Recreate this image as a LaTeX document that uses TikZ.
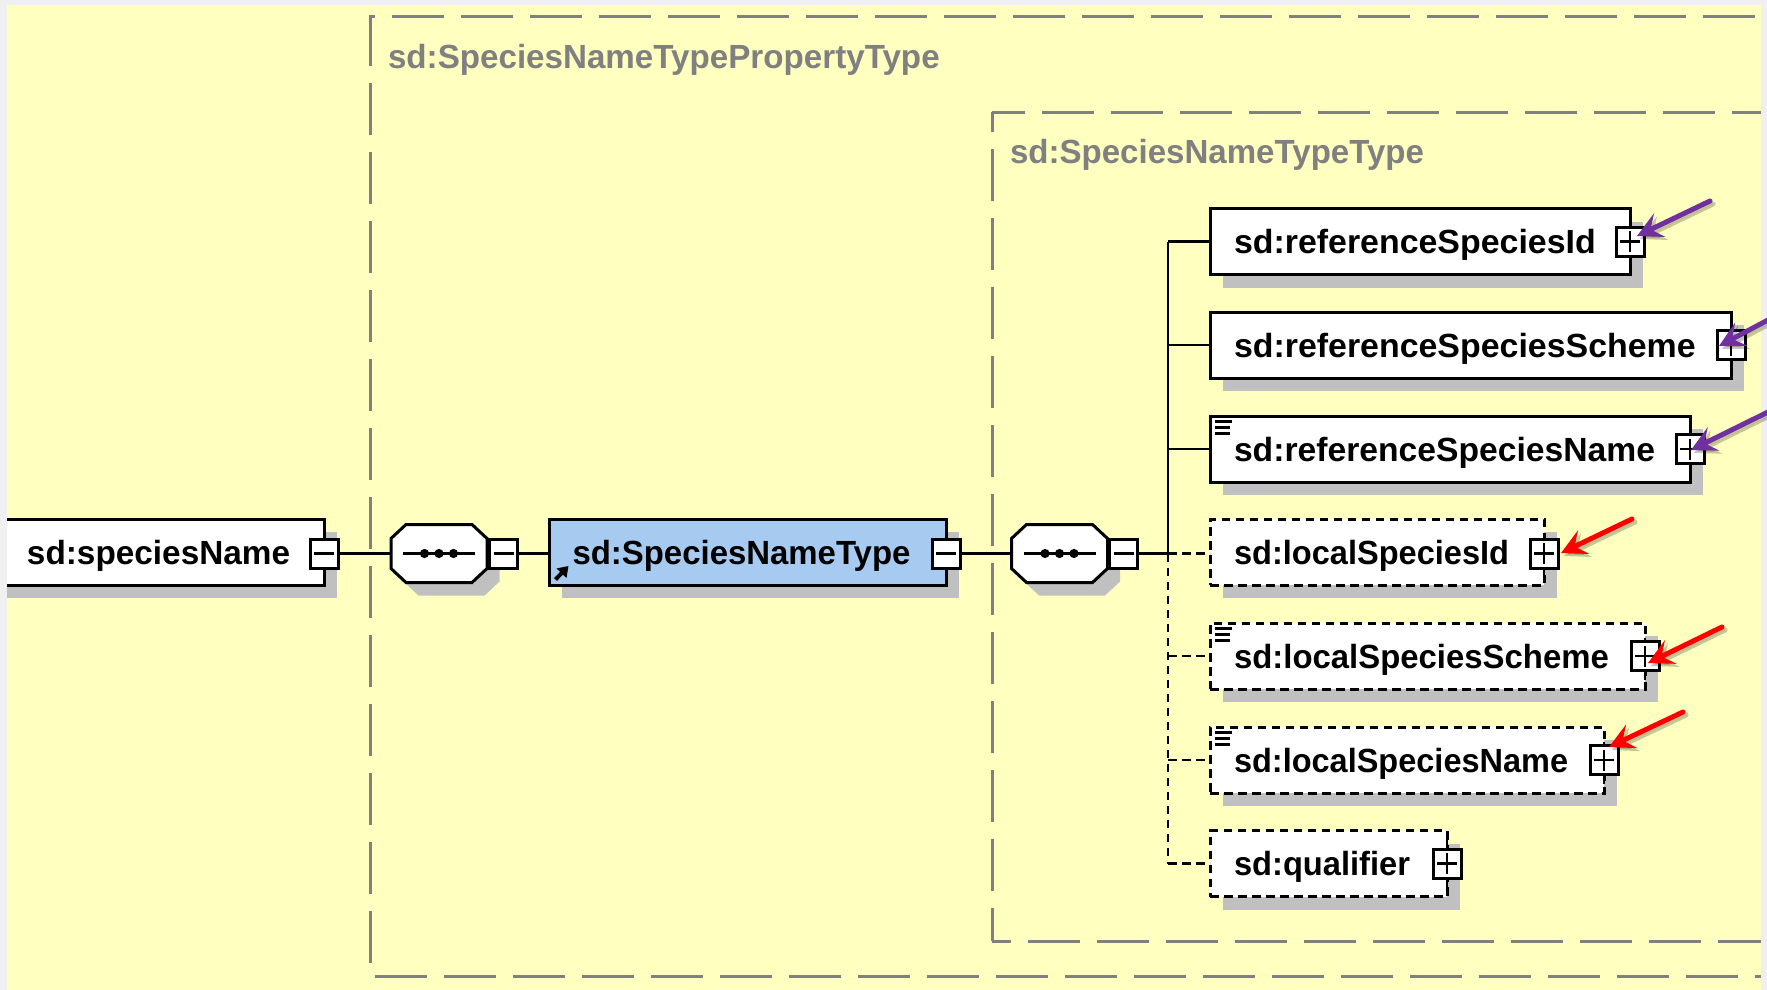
\documentclass[tikz,border=0pt]{standalone}
\usepackage{fontspec}
\usepackage{graphicx}
\setmainfont{Liberation Sans}
\usetikzlibrary{arrows.meta,calc}
\definecolor{bgout}{HTML}{F0F0F0}
\definecolor{bgyel}{HTML}{FFFFC0}
\definecolor{shgray}{HTML}{C0C0C0}
\definecolor{frgray}{HTML}{808080}
\definecolor{typeblue}{HTML}{A6CAF0}
\definecolor{arrpurple}{HTML}{7030A0}
\definecolor{arrred}{HTML}{FF0000}
\tikzset{
  shad/.style={preaction={draw=none,fill=shgray,transform canvas={xshift=12.5pt,yshift=-13pt}}},
  elem/.style={shape=rectangle,shad,draw=black,fill=white,line width=3pt,minimum height=66pt,inner sep=0pt,outer sep=0pt,anchor=west},
  optelem/.style={elem,dash pattern=on 8.5pt off 5.5pt},
  seqbox/.style={shape=rectangle,minimum width=96pt,minimum height=58pt,inner sep=0pt,outer sep=0pt},
  tog/.style={shape=rectangle,draw=black,fill=white,line width=3pt,minimum width=28pt,minimum height=29pt,inner sep=0pt,outer sep=0pt},
  minusbox/.style={tog,path picture={\draw[line width=2.4pt,shorten <=4pt,shorten >=4pt] (path picture bounding box.west) -- (path picture bounding box.east);}},
  plusbox/.style={tog,path picture={\draw[line width=2.4pt,shorten <=4pt,shorten >=4pt] (path picture bounding box.west) -- (path picture bounding box.east);\draw[line width=2.4pt,shorten <=4pt,shorten >=4pt] (path picture bounding box.north) -- (path picture bounding box.south);}},
  lbl/.style={font=\bfseries\fontsize{33.5pt}{36pt}\selectfont,text=black,anchor=base west,inner sep=0pt,outer sep=0pt},
  grlbl/.style={lbl,text=frgray},
  frameln/.style={draw=frgray,line width=3pt,dash pattern=on 52pt off 17pt},
  conn/.style={draw=black,line width=2.7pt},
  dconn/.style={draw=black,line width=2.7pt,dash pattern=on 8.5pt off 5.5pt},
  callout/.style={line width=5pt,line cap=round,-{Stealth[length=25pt,width=26pt,inset=10pt]}},
}
\newcommand\sx[2]{\scalebox{#1}[1]{#2}}
\newcommand\seqpoly[1]{([xshift=15pt]#1.north west) -- ([xshift=-15pt]#1.north east) -- ([yshift=-14pt]#1.north east) -- ([yshift=14pt]#1.south east) -- ([xshift=-15pt]#1.south east) -- ([xshift=15pt]#1.south west) -- ([yshift=14pt]#1.south west) -- ([yshift=-14pt]#1.north west) -- cycle}
\newcommand\seqmark[1]{%
  \fill[shgray,transform canvas={xshift=12.5pt,yshift=-13pt}] \seqpoly{#1};
  \draw[line width=3pt,fill=white] \seqpoly{#1};
  \draw[line width=2.7pt] ([xshift=-36pt]#1.center) -- ([xshift=36pt]#1.center);
  \fill ([xshift=-14.5pt]#1.center) circle (4.6pt) (#1.center) circle (4.6pt) ([xshift=14.5pt]#1.center) circle (4.6pt);}
\newcommand\listmark[1]{%
  \draw[line width=3pt] ([shift={(5,5)}]#1.north west) -- ++(17,0) ([shift={(5,11)}]#1.north west) -- ++(15,0) ([shift={(5,17)}]#1.north west) -- ++(15,0);}
\newcommand\calloutarrow[3]{%
  \draw[callout,draw=black,fill=black,opacity=.22] ([shift={(3,3)}]#2) -- ([shift={(3,3)}]#3);
  \draw[callout,draw=#1,fill=#1] (#2) -- (#3);}
\begin{document}
\begin{tikzpicture}[x=1pt,y=-1pt]
\useasboundingbox (0,0) rectangle (1767,990);
\fill[bgout] (0,0) rectangle (1767,990);
\fill[bgyel] (7,5) rectangle (1761,990);

% outer frame
\draw[frameln,dash phase=3pt] (370,17) -- (370,963);
\draw[draw=frgray,line width=3pt] (368.5,17) -- (375,17);
\draw[frameln] (392,17) -- (1755,17);
\draw[frameln] (375,976.5) -- (1761,976.5);
\node[grlbl] (outerlabel) at (388,69) {\sx{.99}{sd:SpeciesNameTypePropertyType}};

% inner frame
\draw[frameln,dash phase=32pt] (992,112) -- (992,941);
\draw[frameln,dash phase=19pt] (992,112) -- (1761,112);
\draw[frameln,dash phase=33pt] (992,941) -- (1761,941);
\node[grlbl] (innerlabel) at (1010,163.5) {\sx{.987}{sd:SpeciesNameTypeType}};

% main row
\node[elem,anchor=east,minimum width=330pt] (species) at (324,552) {};
\node[minusbox] (m0) at ([yshift=-1.5pt]species.east) {};
\node[lbl] (speciestxt) at (27,564) {\sx{.995}{sd:speciesName}};

\node[seqbox] (seqa) at (439,553.5) {};
\seqmark{seqa}
\node[minusbox,anchor=west] (m1) at (489.5,553.5) {};

\node[elem,fill=typeblue,minimum width=397pt] (ntype) at (549,552) {};
\node[minusbox] (m2) at ([yshift=-1.5pt]ntype.east) {};
\node[lbl] (ntypetxt) at (572.5,564) {\sx{.983}{sd:SpeciesNameType}};
\draw[line width=4pt,-{Triangle[length=10pt,width=13pt]}] ([shift={(6.5,-5.5)}]ntype.south west) -- ([shift={(19.5,-19)}]ntype.south west);

\node[seqbox] (seqb) at (1059.5,553.5) {};
\seqmark{seqb}
\node[minusbox,anchor=west] (m3) at (1109.5,553.5) {};

\draw[conn] (m0.east) -- (seqa.west);
\draw[conn] (m1.east) -- (m1.east -| ntype.west);
\draw[conn] (m2.east) -- (seqb.west);

% child elements
\node[elem,minimum width=420pt] (ra) at (1210,241.5) {};
\node[plusbox] (pa) at (ra.east) {};
\node[lbl] (ratxt) at (1234,253) {\sx{1.012}{sd:referenceSpeciesId}};

\node[elem,minimum width=521pt] (rb) at (1210,345) {};
\node[plusbox] (pb) at (rb.east) {};
\node[lbl] (rbtxt) at (1234,357) {\sx{1.012}{sd:referenceSpeciesScheme}};

\node[elem,minimum width=480pt] (rc) at (1210,449) {};
\node[plusbox] (pc) at (rc.east) {};
\listmark{rc}
\node[lbl] (rctxt) at (1234,461) {\sx{1.005}{sd:referenceSpeciesName}};

\node[optelem,minimum width=334pt] (la) at (1210,552) {};
\node[plusbox] (pd) at ([yshift=-1.5pt]la.east) {};
\node[lbl] (latxt) at (1234,564) {\sx{.972}{sd:localSpeciesId}};

\node[optelem,minimum width=435pt] (lb) at (1210,656) {};
\node[plusbox] (pe) at (lb.east) {};
\listmark{lb}
\node[lbl] (lbtxt) at (1234,668) {\sx{.982}{sd:localSpeciesScheme}};

\node[optelem,minimum width=394pt] (lc) at (1210,760) {};
\node[plusbox] (pf) at (lc.east) {};
\listmark{lc}
\node[lbl] (lctxt) at (1234,772) {\sx{.97}{sd:localSpeciesName}};

\node[optelem,minimum width=237pt] (ld) at (1210,863.5) {};
\node[plusbox] (pg) at (ld.east) {};
\node[lbl] (ldtxt) at (1234,875) {\sx{.975}{sd:qualifier}};

% ticks of the dashed right edges
\foreach \p in {pd,pe,pf}{
  \draw[line width=2.7pt] (\p.north) -- ++(0,-4);
  \draw[line width=2.7pt] (\p.south) -- ++(0,9);}
\draw[line width=2.7pt] (pg.north) -- ++(0,-10);
\draw[line width=2.7pt] (pg.south) -- ++(0,10);

% trunk and branches
\coordinate (trunk) at (1168,553.5);
\draw[conn] (m3.east) -- (trunk);
\draw[conn] (trunk |- ra.west) -- (trunk);
\draw[conn] (trunk |- ra.west) -- (ra.west);
\draw[conn] (trunk |- rb.west) -- (rb.west);
\draw[conn] (trunk |- rc.west) -- (rc.west);
\draw[dconn] (trunk) -- (trunk -| la.west);
\draw[dconn] (trunk) -- (trunk |- ld.west);
\draw[dconn] (trunk |- lb.west) -- (lb.west);
\draw[dconn] (trunk |- lc.west) -- (lc.west);
\draw[dconn] (trunk |- ld.west) -- (ld.west);

% window edges over the clipped box
\fill[bgout] (0,0) rectangle (7,990);
\fill[bgout] (1761,0) rectangle (1767,990);

% callout arrows
\coordinate (a1t) at (1710,201); \coordinate (a1h) at (1637,236);
\coordinate (a2t) at (1768,320); \coordinate (a2h) at (1719,346);
\coordinate (a3t) at (1768,412); \coordinate (a3h) at (1691,450);
\coordinate (a4t) at (1632,519); \coordinate (a4h) at (1561,553);
\coordinate (a5t) at (1722,627); \coordinate (a5h) at (1648,663);
\coordinate (a6t) at (1683,712); \coordinate (a6h) at (1609,747);
\calloutarrow{arrpurple}{a1t}{a1h}
\calloutarrow{arrpurple}{a2t}{a2h}
\calloutarrow{arrpurple}{a3t}{a3h}
\calloutarrow{arrred}{a4t}{a4h}
\calloutarrow{arrred}{a5t}{a5h}
\calloutarrow{arrred}{a6t}{a6h}
\end{tikzpicture}
\end{document}
